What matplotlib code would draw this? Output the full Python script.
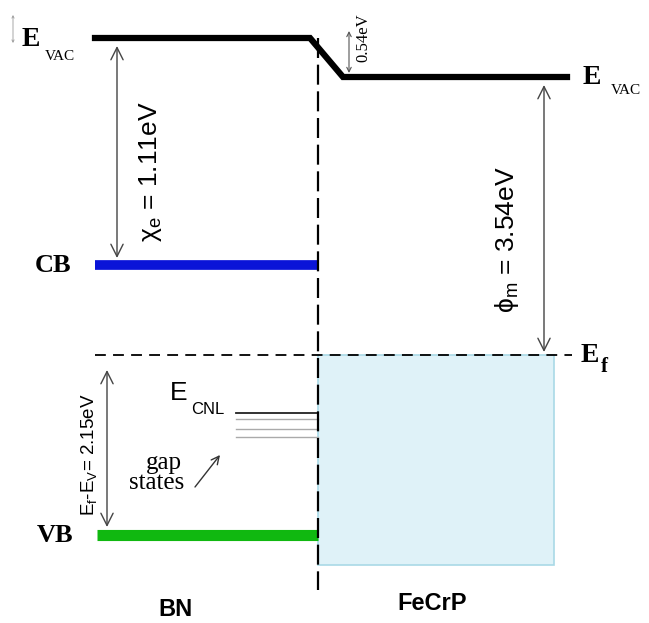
import matplotlib
matplotlib.use("Agg")
import matplotlib.pyplot as plt
from matplotlib.patches import Rectangle

plt.rcParams["mathtext.default"] = "regular"

# ---- data (schematic level positions, diagram units) ----
materials = ["BN", "FeCrP"]
level_names = ["E_VAC(BN)", "E_VAC(FeCrP)", "CB", "E_f", "VB"]
level_pos = [38, 77, 265, 355, 535]
cnl_pos = [413, 419, 429, 437]
cnl_colors = ["#222222", "#aaaaaa", "#aaaaaa", "#aaaaaa"]
chi_e = 1.11
phi_m = 3.54
dipole = 0.54
ef_minus_ev = 2.15

# x extents (diagram units)
x_left, x_iface, x_vac_right_start, x_right = 95, 318, 343, 567
x_metal_end = 554

bn_vac, m_vac, cb, ef, vb = level_pos

serif = ["Liberation Serif", "DejaVu Serif"]
sans = ["Liberation Sans", "DejaVu Sans"]

fig = plt.figure(figsize=(6.49, 6.23), dpi=100)
ax = fig.add_axes([0, 0, 1, 1])
ax.set_xlim(0, 649)
ax.set_ylim(623, 0)
ax.axis("off")

# metal filled states
ax.add_patch(Rectangle((x_iface, ef), x_metal_end - x_iface, vb + 30 - ef,
                       facecolor="#dff2f8", edgecolor="#a9d9e6", lw=1.2, zorder=1))

# vacuum level
ax.plot([x_left, x_iface - 8, x_vac_right_start, x_right],
        [bn_vac, bn_vac, m_vac, m_vac], color="black", lw=4.5,
        solid_joinstyle="miter", zorder=3)

# CB, VB
ax.plot([x_left, x_iface], [cb, cb], color="#0a14d8", lw=7, solid_capstyle="butt", zorder=3)
ax.plot([x_left + 2, x_iface], [vb, vb], color="#10b810", lw=8, solid_capstyle="butt", zorder=3)

# Fermi level
ax.plot([x_left, x_right + 5], [ef, ef], color="black", lw=1.3, ls=(0, (6, 4)), zorder=4)

# interface
ax.plot([x_iface, x_iface], [bn_vac, 590], color="black", lw=1.6, ls=(0, (9, 3)), zorder=5)

# CNL / gap states
for y, c in zip(cnl_pos, cnl_colors):
    ax.plot([236, x_iface], [y, y], color=c, lw=1.3 if c == "#222222" else 1.0, zorder=3)

# arrows
def darrow(x, y0, y1, lw=1.0, color="#444444"):
    ax.annotate("", xy=(x, y1), xytext=(x, y0),
                arrowprops=dict(arrowstyle="<->", color=color, lw=lw,
                                mutation_scale=22, shrinkA=0, shrinkB=0), zorder=6)

darrow(117, bn_vac + 8, cb - 7)
darrow(544, m_vac + 8, ef - 3)
darrow(107, ef + 15, vb - 8)
ax.annotate("", xy=(349, 31), xytext=(349, 73),
            arrowprops=dict(arrowstyle="<->", color="#555555", lw=0.8,
                            mutation_scale=8, shrinkA=0, shrinkB=0))
ax.annotate("", xy=(13, 15), xytext=(13, 43),
            arrowprops=dict(arrowstyle="<->", color="#999999", lw=0.6,
                            mutation_scale=4, shrinkA=0, shrinkB=0))
ax.annotate("", xy=(220, 455), xytext=(195, 487),
            arrowprops=dict(arrowstyle="->", color="#333333", lw=1.0,
                            mutation_scale=14, shrinkA=0, shrinkB=0))

# labels
ax.text(22, 40, "E", family=serif, weight="bold", fontsize=20, va="center", ha="left")
ax.text(45, 57, "VAC", family=serif, fontsize=11, va="center", ha="left")
ax.text(583, 77, "E", family=serif, weight="bold", fontsize=20, va="center", ha="left")
ax.text(611, 90, "VAC", family=serif, fontsize=11, va="center", ha="left")
ax.text(581, 355, "E", family=serif, weight="bold", fontsize=20, va="center", ha="left")
ax.text(601, 367, "f", family=serif, weight="bold", fontsize=15, va="center", ha="left")
ax.text(35, 265, "CB", family=serif, weight="bold", fontsize=19, va="center", ha="left")
ax.text(37, 536, "VB", family=serif, weight="bold", fontsize=19, va="center", ha="left")

ax.text(150, 172, "χ$_e$" + f" = {chi_e:.2f}eV", family=sans, fontsize=19,
        rotation=90, va="center", ha="center")
ax.text(507, 240, "ϕ$_m$" + f" = {phi_m:.2f}eV", family=sans, fontsize=19,
        rotation=90, va="center", ha="center")
ax.text(89, 455, "E$_f$-E$_V$" + f"= {ef_minus_ev:.2f}eV", family=sans, fontsize=13.5,
        rotation=90, va="center", ha="center")
ax.text(363, 38, f"{dipole:.2f}eV", family=serif, fontsize=12,
        rotation=90, va="center", ha="center")

ax.text(170, 393, "E", family=sans, fontsize=19, va="center", ha="left")
ax.text(191, 410, "CNL", family=sans, fontsize=12, va="center", ha="left")
ax.text(164, 463, "gap", family=serif, fontsize=18, va="center", ha="center")
ax.text(157, 483, "states", family=serif, fontsize=18, va="center", ha="center")

ax.text(175, 609, materials[0], family=sans, weight="bold", fontsize=17, va="center", ha="center")
ax.text(432, 604, materials[1], family=sans, weight="bold", fontsize=17, va="center", ha="center")

fig.savefig("out.png", dpi=100)
